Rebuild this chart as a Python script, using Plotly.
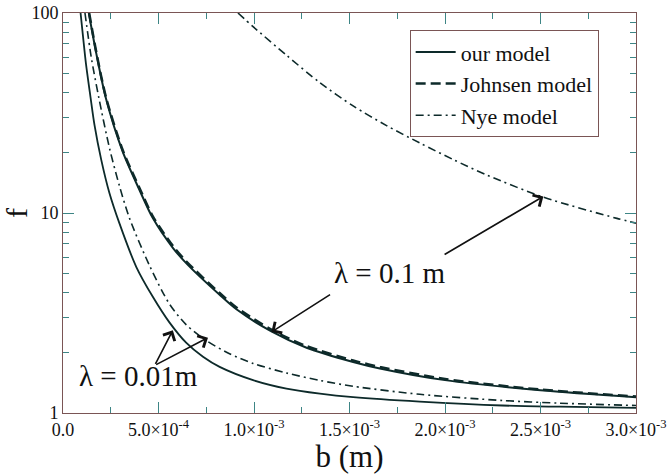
import numpy as np
import plotly.graph_objects as go

# ---- data (b in metres, f dimensionless) ----
b_our_001 = [0.092e-3, 0.105e-3, 0.12e-3, 0.144e-3, 0.165e-3, 0.200e-3, 0.243e-3, 0.296e-3, 0.384e-3,
             0.471e-3, 0.558e-3, 0.646e-3, 0.733e-3, 0.82e-3, 0.995e-3, 1.17e-3, 1.345e-3, 1.519e-3,
             1.868e-3, 2.3e-3, 2.6e-3, 3.0e-3]
f_our_001 = [100, 76, 56, 38, 27.5, 18.5, 12.6, 8.85, 5.37,
             3.80, 2.83, 2.24, 1.91, 1.70, 1.46, 1.325, 1.25, 1.20,
             1.14, 1.09, 1.075, 1.06]

b_nye_001 = [0.115e-3, 0.148e-3, 0.188e-3, 0.244e-3, 0.296e-3, 0.3485e-3, 0.4533e-3, 0.558e-3, 0.6457e-3,
             0.7505e-3, 0.872e-3, 0.995e-3, 1.17e-3, 1.345e-3, 1.519e-3, 1.868e-3, 2.3e-3, 2.6e-3, 3.0e-3]
f_nye_001 = [100, 60, 37.5, 21.0, 13.6, 9.4, 5.45, 3.50, 2.76,
             2.30, 1.98, 1.77, 1.585, 1.455, 1.36, 1.24, 1.155, 1.12, 1.09]

b_our_01 = [0.135e-3, 0.174e-3, 0.226e-3, 0.313e-3, 0.401e-3, 0.471e-3, 0.575e-3, 0.646e-3, 0.82e-3,
            0.908e-3, 1.091e-3, 1.275e-3, 1.519e-3, 1.659e-3, 2.0e-3, 2.5e-3, 3.0e-3]
f_our_01 = [100, 63, 37, 20.2, 13.0, 9.4, 6.7, 5.6, 3.9,
            3.3, 2.56, 2.12, 1.80, 1.67, 1.46, 1.30, 1.20]

b_joh_01 = [0.137e-3, 0.174e-3, 0.226e-3, 0.313e-3, 0.401e-3, 0.471e-3, 0.575e-3, 0.646e-3, 0.82e-3,
            0.908e-3, 1.091e-3, 1.275e-3, 1.519e-3, 1.659e-3, 2.0e-3, 2.5e-3, 3.0e-3]
f_joh_01 = [100, 64, 37.6, 20.6, 13.3, 9.6, 6.85, 5.72, 3.98,
            3.37, 2.61, 2.16, 1.83, 1.70, 1.48, 1.31, 1.21]

b_nye_01 = [0.916e-3, 0.995e-3, 1.17e-3, 1.344e-3, 1.519e-3, 1.694e-3, 1.868e-3, 2.043e-3, 2.218e-3,
            2.515e-3, 2.9e-3, 3.0e-3]
f_nye_01 = [100, 85.5, 61.5, 44.9, 34.3, 27.35, 22.4, 18.5, 15.5, 12.0, 9.4, 8.9]

x_tickvals = [0, 5e-4, 1e-3, 1.5e-3, 2e-3, 2.5e-3, 3e-3]
x_ticktext = ["0.0", "5.0×10<sup>-4</sup>", "1.0×10<sup>-3</sup>", "1.5×10<sup>-3</sup>",
              "2.0×10<sup>-3</sup>", "2.5×10<sup>-3</sup>", "3.0×10<sup>-3</sup>"]
y_tickvals = [1, 10, 100]
y_ticktext = ["1", "10", "100"]

# label anchor points (b, f, text)
labels = [(1.711e-3, 5.02, "λ = 0.1 m"), (0.396e-3, 1.526, "λ = 0.01m")]
# arrows: (head b, head f, tail b, tail f)
arrows = [
    (1.091e-3, 2.54, 1.406e-3, 3.95),
    (2.515e-3, 12.1, 1.99e-3, 6.14),
    (0.575e-3, 2.59, 0.480e-3, 1.73),
    (0.759e-3, 2.38, 0.480e-3, 1.73),
]

FONT = "Liberation Serif, Times New Roman, serif"
LC = "#0d2a2a"

fig = go.Figure()
fig.add_trace(go.Scatter(x=b_our_01, y=f_our_01, mode="lines", name="our model",
                         line=dict(color=LC, width=2, shape="spline", smoothing=0.8)))
fig.add_trace(go.Scatter(x=b_joh_01, y=f_joh_01, mode="lines", name="Johnsen model",
                         line=dict(color=LC, width=2.5, dash="10px,5px", shape="spline", smoothing=0.8)))
fig.add_trace(go.Scatter(x=b_nye_01, y=f_nye_01, mode="lines", name="Nye model",
                         line=dict(color=LC, width=1.6, dash="8px,4px,2px,4px", shape="spline", smoothing=0.8)))
fig.add_trace(go.Scatter(x=b_our_001, y=f_our_001, mode="lines", showlegend=False,
                         line=dict(color=LC, width=1.8, shape="spline", smoothing=0.8)))
fig.add_trace(go.Scatter(x=b_nye_001, y=f_nye_001, mode="lines", showlegend=False,
                         line=dict(color=LC, width=1.6, dash="8px,4px,2px,4px", shape="spline", smoothing=0.8)))

annotations = []
for bx, fy, txt in labels:
    annotations.append(dict(x=bx, y=np.log10(fy), xref="x", yref="y", text=txt, showarrow=False,
                            font=dict(family=FONT, size=29, color="#111")))
for hx, hy, tx, ty in arrows:
    annotations.append(dict(x=hx, y=np.log10(hy), ax=tx, ay=np.log10(ty), xref="x", yref="y",
                            axref="x", ayref="y", text="", showarrow=True, arrowhead=4,
                            arrowsize=1.6, arrowwidth=1.6, arrowcolor="#111"))

axis_common = dict(showline=True, linecolor="#7a5555", linewidth=1, mirror="ticks",
                   ticks="inside", tickcolor="#3d8585", ticklen=11, tickwidth=1,
                   showgrid=False, zeroline=False, automargin=False)

fig.update_layout(
    width=670, height=474,
    margin=dict(l=63, r=34, t=13, b=61),
    paper_bgcolor="white", plot_bgcolor="white",
    font=dict(family=FONT, color="#111"),
    xaxis=dict(range=[0, 3e-3], tickvals=x_tickvals, ticktext=x_ticktext,
               tickfont=dict(family=FONT, size=18, color="#111"),
               minor=dict(dtick=2.5e-4, ticks="inside", ticklen=6, tickcolor="#3d8585"),
               title=dict(text="b (m)", font=dict(family=FONT, size=31)),
               **axis_common),
    yaxis=dict(type="log", range=[0, 2], tickvals=y_tickvals, ticktext=y_ticktext,
               tickfont=dict(family=FONT, size=18, color="#111"),
               minor=dict(dtick="D1", ticks="inside", ticklen=6, tickcolor="#3d8585"),
               title=dict(text="f", font=dict(family=FONT, size=30)),
               **axis_common),
    legend=dict(x=0.605, y=0.957, xanchor="left", yanchor="top",
                bgcolor="white", bordercolor="#7a5555", borderwidth=1,
                font=dict(family=FONT, size=22, color="#111"), tracegroupgap=0,
                itemwidth=40),
    annotations=annotations,
    showlegend=True,
)

fig.write_html("out.html")
